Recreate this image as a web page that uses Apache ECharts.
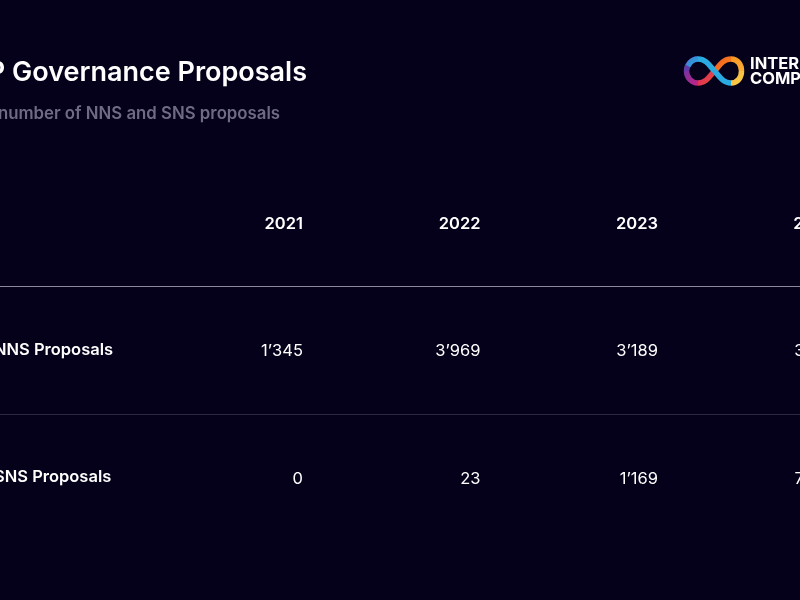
<!DOCTYPE html>
<html>
<head>
<meta charset="utf-8">
<style>
  html, body { margin: 0; padding: 0; background: #05011a; }
  #chart { width: 800px; height: 600px; }
</style>
<script src="https://cdn.jsdelivr.net/npm/echarts@6/dist/echarts.min.js"></script>
</head>
<body>
<div id="chart"></div>
<script>
const titleText = 'ICP Governance Proposals';
const subtitleText = 'Total number of NNS and SNS proposals';
const years = [2021, 2022, 2023, 2024];
const rows = ['Year', 'NNS Proposals', 'SNS Proposals'];
// 2024 is cut off at the right edge, only the first digit can be read
const nnsProposals = [1345, 3969, 3189, 3512];
const snsProposals = [0, 23, 1169, 7214];

const FONT = 'Inter, "Noto Sans", sans-serif';

function formatCount(v) {
  return String(v).replace(/\B(?=(\d{3})+$)/g, '’');
}

function cellSeries(rowName, values, fontWeight) {
  return {
    type: 'scatter',
    symbolSize: 1,
    itemStyle: { color: 'rgba(0,0,0,0)', opacity: 1 },
    silent: true,
    clip: false,
    data: values.map((v, i) => [years[i], rowName, v]),
    label: {
      show: true,
      position: 'left',
      distance: 0,
      offset: [0.5, 1.5],
      color: '#ffffff',
      fontFamily: FONT,
      fontSize: 16.5,
      fontWeight,
      formatter: (p) => (rowName === 'Year' ? String(p.value[2]) : formatCount(p.value[2]))
    }
  };
}

// Infinity logo, top right: one bezier piece per colour stretch
function logoStroke(p0, c1, c2, p1, from, to) {
  return {
    type: 'bezierCurve',
    silent: true,
    shape: {
      x1: p0[0], y1: p0[1],
      cpx1: c1[0], cpy1: c1[1],
      cpx2: c2[0], cpy2: c2[1],
      x2: p1[0], y2: p1[1]
    },
    style: {
      fill: null,
      lineWidth: 5.5,
      stroke: new echarts.graphic.LinearGradient(0, 0, 1, 1, [
        { offset: 0, color: from },
        { offset: 1, color: to }
      ])
    }
  };
}

const chart = echarts.init(document.getElementById('chart'));
chart.setOption({
  backgroundColor: '#05011a',
  animation: false,
  title: [
    {
      text: titleText,
      left: 302,
      top: 54,
      textAlign: 'right',
      textStyle: { color: '#ffffff', fontFamily: FONT, fontSize: 27, fontWeight: 600 }
    },
    {
      text: subtitleText,
      left: 275,
      top: 100,
      textAlign: 'right',
      textStyle: { color: '#6f6b85', fontFamily: FONT, fontSize: 16.8, fontWeight: 600 }
    }
  ],
  grid: { left: 0, right: 0, top: 158.75, height: 382.5, outerBoundsMode: 'none' },
  xAxis: {
    // window chosen so the table columns land where the source crop has them
    type: 'value',
    min: 2019.293,
    max: 2023.8,
    axisLine: { show: false },
    axisTick: { show: false },
    axisLabel: { show: false },
    splitLine: { show: false }
  },
  yAxis: {
    type: 'category',
    inverse: true,
    data: rows,
    axisLine: { show: false },
    axisTick: { show: false },
    axisLabel: {
      align: 'left',
      margin: 6,
      padding: [5, 0, 0, 0],
      color: '#ffffff',
      fontFamily: FONT,
      fontSize: 16.5,
      fontWeight: 600,
      formatter: (v) => (v === 'Year' ? '' : v)
    },
    splitLine: {
      show: true,
      lineStyle: { width: 1, color: ['rgba(0,0,0,0)', '#8b8899', '#2b2740', 'rgba(0,0,0,0)'] }
    }
  },
  series: [
    cellSeries('Year', years, 600),
    cellSeries('NNS Proposals', nnsProposals, 400),
    cellSeries('SNS Proposals', snsProposals, 400)
  ],
  graphic: [
    logoStroke([698, 59], [691, 59], [686.5, 65], [686.5, 71], '#5b3fa8', '#6a35a5'),
    logoStroke([686.5, 71], [686.5, 77], [691, 83], [698, 83], '#6a35a5', '#d0217f'),
    logoStroke([698, 83], [706, 83], [710, 76], [714.5, 71], '#d0217f', '#f0531f'),
    logoStroke([714.5, 71], [719, 66], [723, 59], [731, 59], '#f0531f', '#f7931e'),
    logoStroke([731, 59], [738, 59], [741.5, 65], [741.5, 71], '#f7931e', '#fbb03b'),
    logoStroke([741.5, 71], [741.5, 77], [738, 83], [731, 83], '#fbb03b', '#f7d24a'),
    logoStroke([688, 66], [690.5, 61], [694, 59], [698, 59], '#3f7fd0', '#29abe2'),
    logoStroke([698, 59], [706, 59], [710, 66], [714.5, 71], '#29abe2', '#29abe2'),
    logoStroke([714.5, 71], [719, 76], [723, 83], [731, 83], '#29abe2', '#29abe2'),
    {
      type: 'text',
      silent: true,
      x: 750,
      y: 55.5,
      style: { text: 'INTERNET', fill: '#ffffff', font: '700 16.5px ' + FONT }
    },
    {
      type: 'text',
      silent: true,
      x: 750,
      y: 71,
      style: { text: 'COMPUTER', fill: '#ffffff', font: '700 16.5px ' + FONT }
    }
  ]
});
</script>
</body>
</html>
